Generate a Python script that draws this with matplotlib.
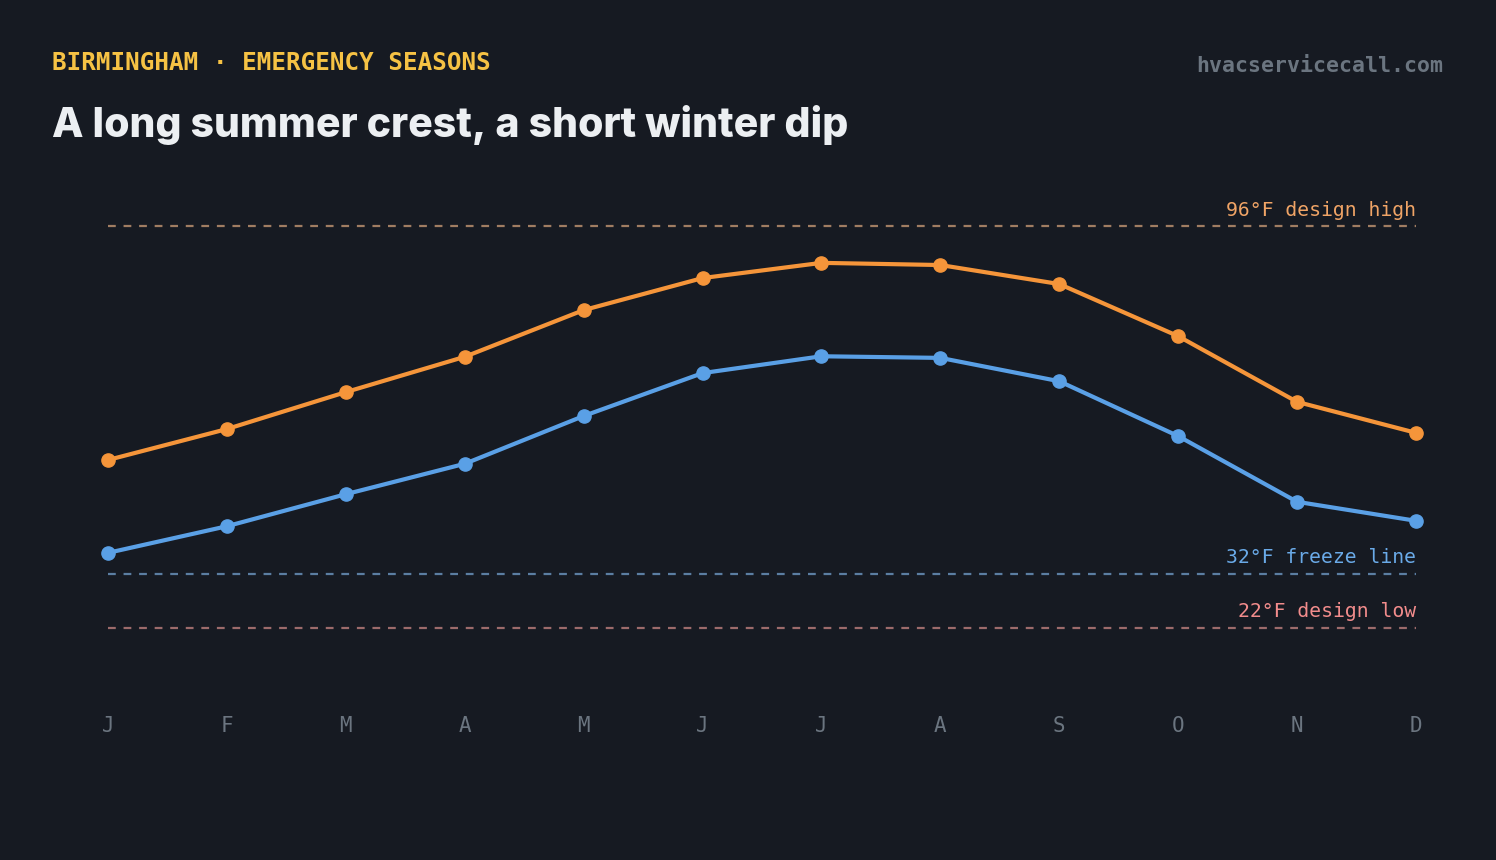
import numpy as np
import matplotlib
matplotlib.use('Agg')
import matplotlib.pyplot as plt
import matplotlib.transforms as mtransforms

# data
months = ['J', 'F', 'M', 'A', 'M', 'J', 'J', 'A', 'S', 'O', 'N', 'D']
highs = [53.0, 58.7, 65.5, 72.0, 80.6, 86.5, 89.3, 88.9, 85.4, 75.8, 63.7, 58.0]
lows = [35.9, 40.8, 46.7, 52.3, 61.1, 69.0, 72.1, 71.8, 67.5, 57.4, 45.3, 41.8]
ref_values = [96, 32, 22]
ref_labels = ['96°F design high', '32°F freeze line', '22°F design low']

bg = '#161a22'
orange = '#f5953a'
blue = '#5aa0e6'
ref_line_colors = ['#a07d62', '#5b7ea2', '#9c6b6b']
ref_text_colors = ['#f0a466', '#6aaae8', '#f28c8c']
mono = ['DejaVu Sans Mono']

fig = plt.figure(figsize=(14.96, 8.6), dpi=100, facecolor=bg)

W, H = 1496, 860
# axes placed so J..D sits at x=108..1416 px and 32F/22F at y=574/628 px
ax = fig.add_axes([48.55 / W, (H - 693.5) / H, 1426.9 / W, 515.9 / H])
ax.set_facecolor(bg)
x = np.arange(len(months))

for v, c in zip(ref_values, ref_line_colors):
    ax.plot([0, 11], [v, v], color=c, lw=1.6, dashes=(3.5, 3.5), zorder=1)

trans = mtransforms.offset_copy(ax.transData, fig=fig, x=0, y=5, units='points')
for v, lab, c in zip(ref_values, ref_labels, ref_text_colors):
    ax.text(11, v, lab, color=c, fontsize=14.2, family=mono, ha='right', va='bottom',
            transform=trans)

ax.plot(x, highs, color=orange, lw=3.0, marker='o', ms=9.5, zorder=3, clip_on=False)
ax.plot(x, lows, color=blue, lw=3.0, marker='o', ms=9.5, zorder=3, clip_on=False)

ax.set_xlim(-0.5, 11.5)
ax.set_ylim(10, 105)
ax.set_xticks(x)
ax.set_xticklabels(months, family=mono, fontsize=15, color='#6b7580')
ax.tick_params(axis='x', length=0, pad=16)
ax.set_yticks([])
for s in ax.spines.values():
    s.set_visible(False)

fig.text(52 / W, 1 - 70 / H, 'BIRMINGHAM · EMERGENCY SEASONS', color='#f6c244',
         fontsize=17.5, family=mono, weight='bold', ha='left', va='baseline')
fig.text(1443 / W, 1 - 72 / H, 'hvacservicecall.com', color='#6b7580',
         fontsize=15.5, family=mono, weight='bold', ha='right', va='baseline')
fig.text(52 / W, 1 - 137 / H, 'A long summer crest, a short winter dip', color='#eceff2',
         fontsize=29.5, family=['Inter', 'DejaVu Sans'], weight='heavy',
         ha='left', va='baseline')

fig.savefig('out.png', dpi=100, facecolor=bg)
